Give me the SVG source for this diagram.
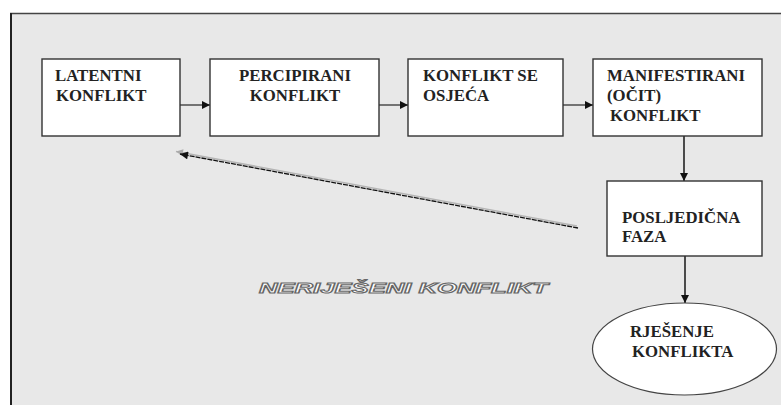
<svg xmlns="http://www.w3.org/2000/svg" width="781" height="405" viewBox="0 0 781 405">
<defs>
<style>
.box{fill:#fff;stroke:#333;stroke-width:1.4}
.c{stroke:#555;stroke-width:1.6;fill:none}
.v{stroke:#222;stroke-width:1.6;fill:none}
</style>
<marker id="ah" viewBox="0 0 10 10" refX="10" refY="5" markerWidth="9" markerHeight="8" markerUnits="userSpaceOnUse" orient="auto">
<path d="M0,0 L10,5 L0,10 z" fill="#111"/>
</marker>
<marker id="ahg" viewBox="0 0 10 10" refX="10" refY="5" markerWidth="8" markerHeight="7" markerUnits="userSpaceOnUse" orient="auto">
<path d="M0,0 L10,5 L0,10 z" fill="#aaa"/>
</marker>
</defs>
<rect x="0" y="0" width="781" height="405" fill="#fff"/>
<rect x="11" y="14" width="780" height="400" fill="#e8e8e8"/>
<line x1="10" y1="13.5" x2="781" y2="13.5" stroke="#444" stroke-width="1.3"/>
<line x1="11" y1="13" x2="11" y2="405" stroke="#222" stroke-width="2"/>

<g id="connectors">
<line class="c" x1="180" y1="105" x2="210" y2="105" marker-end="url(#ah)"/>
<line class="c" x1="379" y1="105" x2="408" y2="105" marker-end="url(#ah)"/>
<line class="c" x1="563" y1="105" x2="593" y2="105" marker-end="url(#ah)"/>
<line class="v" x1="684" y1="136" x2="684" y2="181" marker-end="url(#ah)"/>
<line class="v" x1="685" y1="256" x2="685" y2="303" marker-end="url(#ah)"/>
<line x1="577" y1="226" x2="176" y2="151.5" stroke="#b5b5b5" stroke-width="1.5" marker-end="url(#ahg)"/>
<line x1="578" y1="228" x2="180" y2="154" stroke="#111" stroke-width="1.3" stroke-dasharray="5 1" marker-end="url(#ah)"/>
</g>

<g font-family="Liberation Serif, Times New Roman, serif" font-weight="bold" font-size="16.8" fill="#222">
<g id="latentni">
<rect class="box" x="42" y="59" width="138" height="77"/>
<text x="55" y="81">LATENTNI</text>
<text x="56" y="101">KONFLIKT</text>
</g>
<g id="percipirani">
<rect class="box" x="210" y="59" width="169" height="77"/>
<text x="295" y="81" text-anchor="middle">PERCIPIRANI</text>
<text x="295" y="101" text-anchor="middle">KONFLIKT</text>
</g>
<g id="osjeca">
<rect class="box" x="408" y="59" width="155" height="77"/>
<text x="423" y="81">KONFLIKT SE</text>
<text x="423" y="101">OSJEĆA</text>
</g>
<g id="manifestirani">
<rect class="box" x="593" y="59" width="169" height="77"/>
<text x="607" y="81">MANIFESTIRANI</text>
<text x="607" y="101">(OČIT)</text>
<text x="610" y="121">KONFLIKT</text>
</g>
<g id="posljedicna">
<rect class="box" x="607" y="181" width="155" height="75"/>
<text x="622" y="223">POSLJEDIČNA</text>
<text x="622" y="242">FAZA</text>
</g>
<g id="rjesenje">
<ellipse cx="684.5" cy="349" rx="92" ry="46" fill="#fff" stroke="#444" stroke-width="1.2"/>
<text x="630" y="337">RJEŠENJE</text>
<text x="632" y="357">KONFLIKTA</text>
</g>
</g>
<g id="nerijeseni">
<text x="259" y="293" font-family="Liberation Sans, Arial, sans-serif" font-weight="bold" font-style="italic" font-size="15" fill="#fff" stroke="#666" stroke-width="1" textLength="289" lengthAdjust="spacingAndGlyphs">NERIJEŠENI KONFLIKT</text>
</g>
</svg>
